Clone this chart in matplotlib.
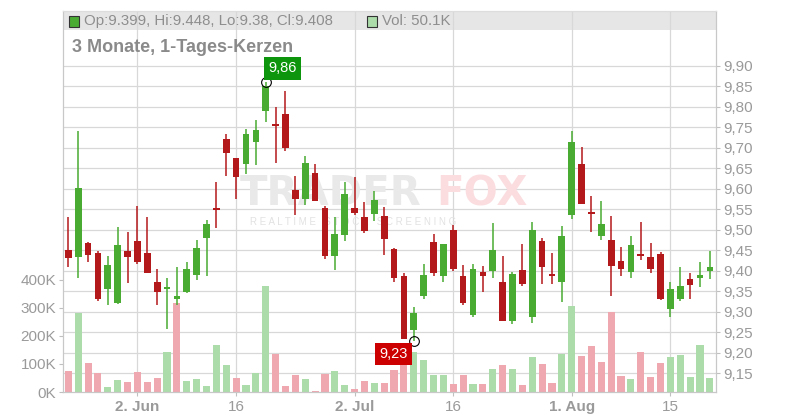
import numpy as np
import matplotlib.pyplot as plt
import matplotlib.transforms as mtrans
from matplotlib.patches import Rectangle
from matplotlib.ticker import FixedLocator, FuncFormatter

plt.rcParams['font.family'] = ['Liberation Sans', 'DejaVu Sans']

# Tageskerzen (Open, High, Low, Close) und Volumen in Tausend
opens = [9.451, 9.434, 9.468, 9.444, 9.354, 9.322, 9.448, 9.473, 9.444, 9.373,
         9.354, 9.332, 9.349, 9.390, 9.481, 9.551, 9.722, 9.675, 9.661, 9.715,
         9.791, 9.758, 9.783, 9.597, 9.576, 9.639, 9.554, 9.436, 9.486, 9.553,
         9.531, 9.539, 9.534, 9.453, 9.387, 9.254, 9.337, 9.470, 9.386, 9.500,
         9.387, 9.292, 9.397, 9.400, 9.373, 9.278, 9.402, 9.288, 9.473, 9.392,
         9.373, 9.535, 9.661, 9.543, 9.485, 9.475, 9.424, 9.397, 9.441, 9.434,
         9.441, 9.307, 9.332, 9.380, 9.383, 9.399]
highs = [9.530, 9.742, 9.470, 9.448, 9.436, 9.507, 9.495, 9.559, 9.532, 9.404,
         9.382, 9.409, 9.422, 9.475, 9.524, 9.617, 9.734, 9.675, 9.746, 9.768,
         9.860, 9.799, 9.839, 9.631, 9.680, 9.661, 9.559, 9.532, 9.617, 9.629,
         9.568, 9.595, 9.556, 9.456, 9.395, 9.312, 9.417, 9.490, 9.465, 9.512,
         9.413, 9.417, 9.412, 9.516, 9.436, 9.397, 9.465, 9.519, 9.481, 9.442,
         9.508, 9.740, 9.703, 9.583, 9.570, 9.534, 9.458, 9.485, 9.519, 9.468,
         9.445, 9.373, 9.409, 9.395, 9.421, 9.448]
lows = [9.408, 9.383, 9.421, 9.325, 9.315, 9.318, 9.371, 9.416, 9.394, 9.315,
        9.257, 9.316, 9.345, 9.376, 9.387, 9.503, 9.632, 9.576, 9.637, 9.659,
        9.764, 9.664, 9.693, 9.535, 9.561, 9.570, 9.429, 9.402, 9.473, 9.537,
        9.491, 9.521, 9.439, 9.373, 9.234, 9.228, 9.330, 9.386, 9.373, 9.399,
        9.315, 9.288, 9.347, 9.383, 9.278, 9.269, 9.363, 9.272, 9.367, 9.368,
        9.324, 9.526, 9.563, 9.495, 9.475, 9.337, 9.387, 9.383, 9.426, 9.395,
        9.328, 9.288, 9.327, 9.332, 9.361, 9.380]
closes = [9.430, 9.602, 9.439, 9.332, 9.414, 9.463, 9.434, 9.420, 9.395, 9.349,
          9.360, 9.339, 9.404, 9.456, 9.514, 9.549, 9.688, 9.628, 9.734, 9.744,
          9.851, 9.753, 9.700, 9.576, 9.663, 9.571, 9.436, 9.490, 9.587, 9.541,
          9.498, 9.573, 9.478, 9.381, 9.234, 9.297, 9.390, 9.394, 9.465, 9.405,
          9.322, 9.404, 9.388, 9.451, 9.278, 9.392, 9.367, 9.500, 9.408, 9.387,
          9.485, 9.714, 9.563, 9.539, 9.514, 9.412, 9.404, 9.463, 9.436, 9.404,
          9.332, 9.355, 9.362, 9.366, 9.390, 9.408]
volumes = [75, 283, 105, 67, 19, 43, 37, 73, 37, 51,
           144, 318, 40, 48, 23, 169, 98, 51, 25, 67,
           379, 137, 23, 62, 48, 4, 65, 75, 25, 11,
           39, 32, 32, 79, 101, 143, 114, 61, 61, 29,
           61, 29, 29, 82, 96, 82, 25, 125, 100, 33,
           136, 307, 129, 164, 107, 286, 57, 46, 143, 54,
           104, 125, 132, 54, 168, 50.1]

tick_pos = [7, 17, 29, 39, 51, 61]
tick_labels = ["2. Jun", "16", "2. Jul", "16", "1. Aug", "15"]
price_levels = [9.15, 9.20, 9.25, 9.30, 9.35, 9.40, 9.45, 9.50, 9.55,
                9.60, 9.65, 9.70, 9.75, 9.80, 9.85, 9.90]
vol_levels = [0, 100, 200, 300, 400]

GREEN = '#4aab33'
RED = '#b3191b'
VGREEN = '#acdcaa'
VRED = '#f0a8b0'
GRID = '#d8d8d8'
TXT = '#9a9a9a'

o = np.array(opens); h = np.array(highs); l = np.array(lows); c = np.array(closes)
x = np.arange(len(c))
up = c >= o
cols = [GREEN if u else RED for u in up]
prev = np.concatenate([[o[0]], c[:-1]])
vcols = [VGREEN if cc >= pc else VRED for cc, pc in zip(c, prev)]

W, H = 800, 420
L, R, T, B = 63, 716, 11, 392
fig = plt.figure(figsize=(W / 100, H / 100), dpi=100)
ax_vol = fig.add_axes([L / W, 1 - B / H, (R - L) / W, (B - T) / H])
ax = ax_vol.twinx()
ax.patch.set_visible(False)

# Kopfzeile (grau)
ax_vol.add_patch(Rectangle((0, (B - 30) / (B - T)), 1, 19 / (B - T), transform=ax_vol.transAxes,
                           fc='#e6e6e6', ec='none', zorder=0))

# Gitter
blend = mtrans.blended_transform_factory(ax_vol.transAxes, ax.transData)
for p in price_levels:
    ax_vol.plot([0, 1], [p, p], transform=blend, color=GRID, lw=0.9, zorder=0.5)
for tp in tick_pos:
    ax_vol.axvline(tp, color=GRID, lw=0.9, zorder=0.5)

# Wasserzeichen
ax_vol.text(240 / W, 1 - 205 / H, "TRADER", transform=fig.transFigure, fontsize=29,
            family='DejaVu Sans', fontweight='bold', color='#e9e9e9', zorder=0.8)
ax_vol.text(436 / W, 1 - 205 / H, "FOX", transform=fig.transFigure, fontsize=29,
            family='DejaVu Sans', fontweight='bold', color='#fbdde0', zorder=0.8)
ax_vol.text(250 / W, 1 - 222 / H, "R E A L T I M E   S T O C K   S C R E E N I N G",
            transform=fig.transFigure, fontsize=7, color='#e2e2e2', zorder=0.8, va='center')

# Volumen
ax_vol.bar(x, volumes, width=0.72, color=vcols, linewidth=0, zorder=2)

# Kerzen
ax.vlines(x, l, h, colors=cols, linewidth=1.1, zorder=3)
body_lo = np.minimum(o, c)
body_h = np.maximum(np.abs(c - o), 0.003)
ax.bar(x, body_h, bottom=body_lo, width=0.68, color=cols, linewidth=0, zorder=4)

# Hoch / Tief markieren
imax = int(np.argmax(h)); imin = int(np.argmin(l))
ax.plot(imax, h[imax], 'o', mfc='none', mec='black', ms=7, mew=0.8, zorder=5)
ax.plot(imin, l[imin], 'o', mfc='none', mec='black', ms=7, mew=0.8, zorder=5)
ax.annotate(f"{h[imax]:.2f}".replace('.', ','), (imax, h[imax]), xytext=(17, 14),
            textcoords='offset pixels', ha='center', va='center', fontsize=10.5, color='white',
            bbox=dict(boxstyle='square,pad=0.3', fc='#0d960d', ec='none'), zorder=6)
ax.annotate(f"{l[imin]:.2f}".replace('.', ','), (imin, l[imin]), xytext=(-20, -13),
            textcoords='offset pixels', ha='center', va='center', fontsize=10.5, color='white',
            bbox=dict(boxstyle='square,pad=0.3', fc='#cc0000', ec='none'), zorder=6)

# Achsen
ax_vol.set_xlim(-0.54, 65.62)
ax_vol.set_ylim(0, 1360.7)
ax.set_ylim(9.1036, 10.0343)

ax.yaxis.set_major_locator(FixedLocator(price_levels))
ax.yaxis.set_major_formatter(FuncFormatter(lambda v, pos: f"{v:.2f}".replace('.', ',')))
ax.tick_params(axis='y', colors='#c0c0c0', labelcolor=TXT, length=3, width=0.8, pad=2, labelsize=11)

ax_vol.yaxis.set_major_locator(FixedLocator(vol_levels))
ax_vol.yaxis.set_major_formatter(FuncFormatter(lambda v, pos: f"{int(v)}K"))
ax_vol.tick_params(axis='y', colors='#c0c0c0', labelcolor=TXT, length=3, width=0.8, pad=2, labelsize=11)

ax_vol.set_xticks(tick_pos)
ax_vol.set_xticklabels(tick_labels)
ax_vol.tick_params(axis='x', colors='#c0c0c0', labelcolor=TXT, length=3, width=0.8, pad=3, labelsize=11)
for lab in ax_vol.get_xticklabels():
    if not lab.get_text().isdigit():
        lab.set_fontweight('bold')

for a in (ax, ax_vol):
    for s in a.spines.values():
        s.set_color('#c8c8c8')
        s.set_linewidth(0.8)
    a.spines['top'].set_color('#dddddd')

# Kopfzeilen-Text
fig.add_artist(Rectangle((68.5 / W, 1 - 26.5 / H), 10 / W, 10 / H, transform=fig.transFigure,
                         fc=GREEN, ec='#333333', lw=0.8))
fig.text(84 / W, 1 - 21 / H, "Op:9.399, Hi:9.448, Lo:9.38, Cl:9.408", va='center',
         fontsize=10.8, color='#8e8e8e')
fig.add_artist(Rectangle((367 / W, 1 - 26.5 / H), 10 / W, 10 / H, transform=fig.transFigure,
                         fc=VGREEN, ec='#333333', lw=0.8))
fig.text(382 / W, 1 - 21 / H, "Vol: 50.1K", va='center', fontsize=10.8, color='#8e8e8e')
fig.text(72 / W, 1 - 47 / H, "3 Monate, 1-Tages-Kerzen", va='center', fontsize=13,
         fontweight='bold', color='#8a8a8a')

fig.savefig("out.png", dpi=100)
